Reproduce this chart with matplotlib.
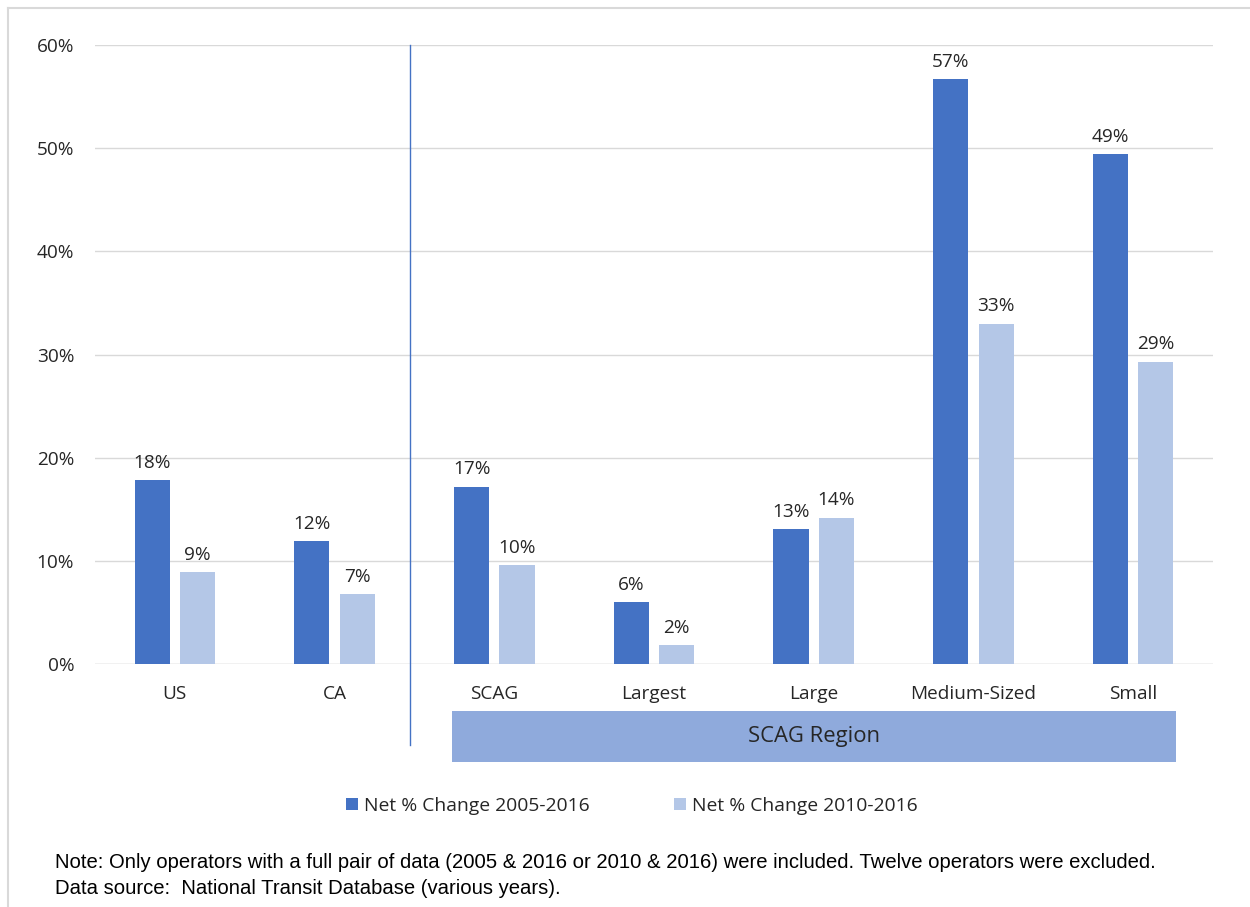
import matplotlib
matplotlib.use('Agg')
import matplotlib.pyplot as plt
from matplotlib.lines import Line2D
from matplotlib.patches import Rectangle
import matplotlib.transforms as mtransforms

# ---- data ----
categories = ['US', 'CA', 'SCAG', 'Largest', 'Large', 'Medium-Sized', 'Small']
change_2005_2016 = [17.8, 11.9, 17.2, 6.0, 13.1, 56.7, 49.4]
change_2010_2016 = [8.9, 6.8, 9.6, 1.8, 14.2, 33.0, 29.3]
series_names = ['Net % Change 2005-2016', 'Net % Change 2010-2016']
yticks = [0, 10, 20, 30, 40, 50, 60]
note_lines = [
    'Note: Only operators with a full pair of data (2005 & 2016 or 2010 & 2016) were included. Twelve operators were excluded.',
    'Data source:  National Transit Database (various years).',
]
# --------------

DARK = '#4472C4'
LIGHT = '#B4C7E7'
BOX = '#8FAADC'
FS = 13.7
plt.rcParams['font.family'] = ['Open Sans', 'DejaVu Sans']

fig = plt.figure(figsize=(12.5, 9.07), dpi=100)
ax = fig.add_axes([0.076, 0.2679, 0.8944, 0.6825])

x = list(range(len(categories)))
w = 0.22
off = 0.142
b1 = ax.bar([i - off for i in x], change_2005_2016, w, color=DARK, label=series_names[0], zorder=3)
b2 = ax.bar([i + off for i in x], change_2010_2016, w, color=LIGHT, label=series_names[1], zorder=3)

for bars, vals in ((b1, change_2005_2016), (b2, change_2010_2016)):
    for rect, v in zip(bars, vals):
        ax.annotate(f'{round(v):.0f}%', (rect.get_x() + rect.get_width() / 2, v),
                    xytext=(0, 6), textcoords='offset points',
                    ha='center', va='bottom', fontsize=FS, color='#262626')

ax.set_xlim(-0.5, 6.5)
ax.set_ylim(0, 60)
ax.set_yticks(yticks)
ax.set_yticklabels([f'{t}%' for t in yticks])
ax.set_xticks(x)
ax.set_xticklabels(categories)
ax.tick_params(axis='both', length=0, labelsize=FS, labelcolor='#262626')
ax.tick_params(axis='y', pad=15)
ax.tick_params(axis='x', pad=15)
ax.grid(axis='y', color='#D9D9D9', linewidth=1, zorder=0)
for s in ax.spines.values():
    s.set_visible(False)
ax.axhline(0, color='#D9D9D9', linewidth=1, zorder=1)

# divider between US/CA and SCAG region, reaching below the axis
trans = mtransforms.blended_transform_factory(ax.transData, ax.transAxes)
ax.add_line(Line2D([1.47, 1.47], [-0.131, 1.0], transform=trans, color=DARK,
                   linewidth=1, clip_on=False))

# "SCAG Region" band under the region categories
ax.add_patch(Rectangle((1.735, -0.158), 6.27 - 1.735, 0.082, transform=trans,
                       facecolor=BOX, edgecolor='none', clip_on=False))
ax.text((1.735 + 6.27) / 2, -0.117, 'SCAG Region', transform=trans,
        ha='center', va='center', fontsize=15.8, color='#262626')

fig.legend(handles=[b1, b2], loc='center', bbox_to_anchor=(0.5055, 1 - 806 / 907),
           ncol=2, frameon=False, fontsize=13.9, handlelength=0.6, handleheight=0.6,
           handletextpad=0.3, columnspacing=4.4, labelcolor='#262626')

for i, line in enumerate(note_lines):
    fig.text(55 / 1250, 1 - (862 + 26 * i) / 907, line, fontsize=14.6, va='center',
             family=['Liberation Sans'], color='black')

# light frame at top and left
fig.add_artist(Line2D([8 / 1250, 1], [1 - 8 / 907, 1 - 8 / 907], transform=fig.transFigure,
                      color='#D9D9D9', linewidth=1.5))
fig.add_artist(Line2D([8 / 1250, 8 / 1250], [0, 1 - 8 / 907], transform=fig.transFigure,
                      color='#D9D9D9', linewidth=1.5))

fig.savefig('out.png', dpi=100)
